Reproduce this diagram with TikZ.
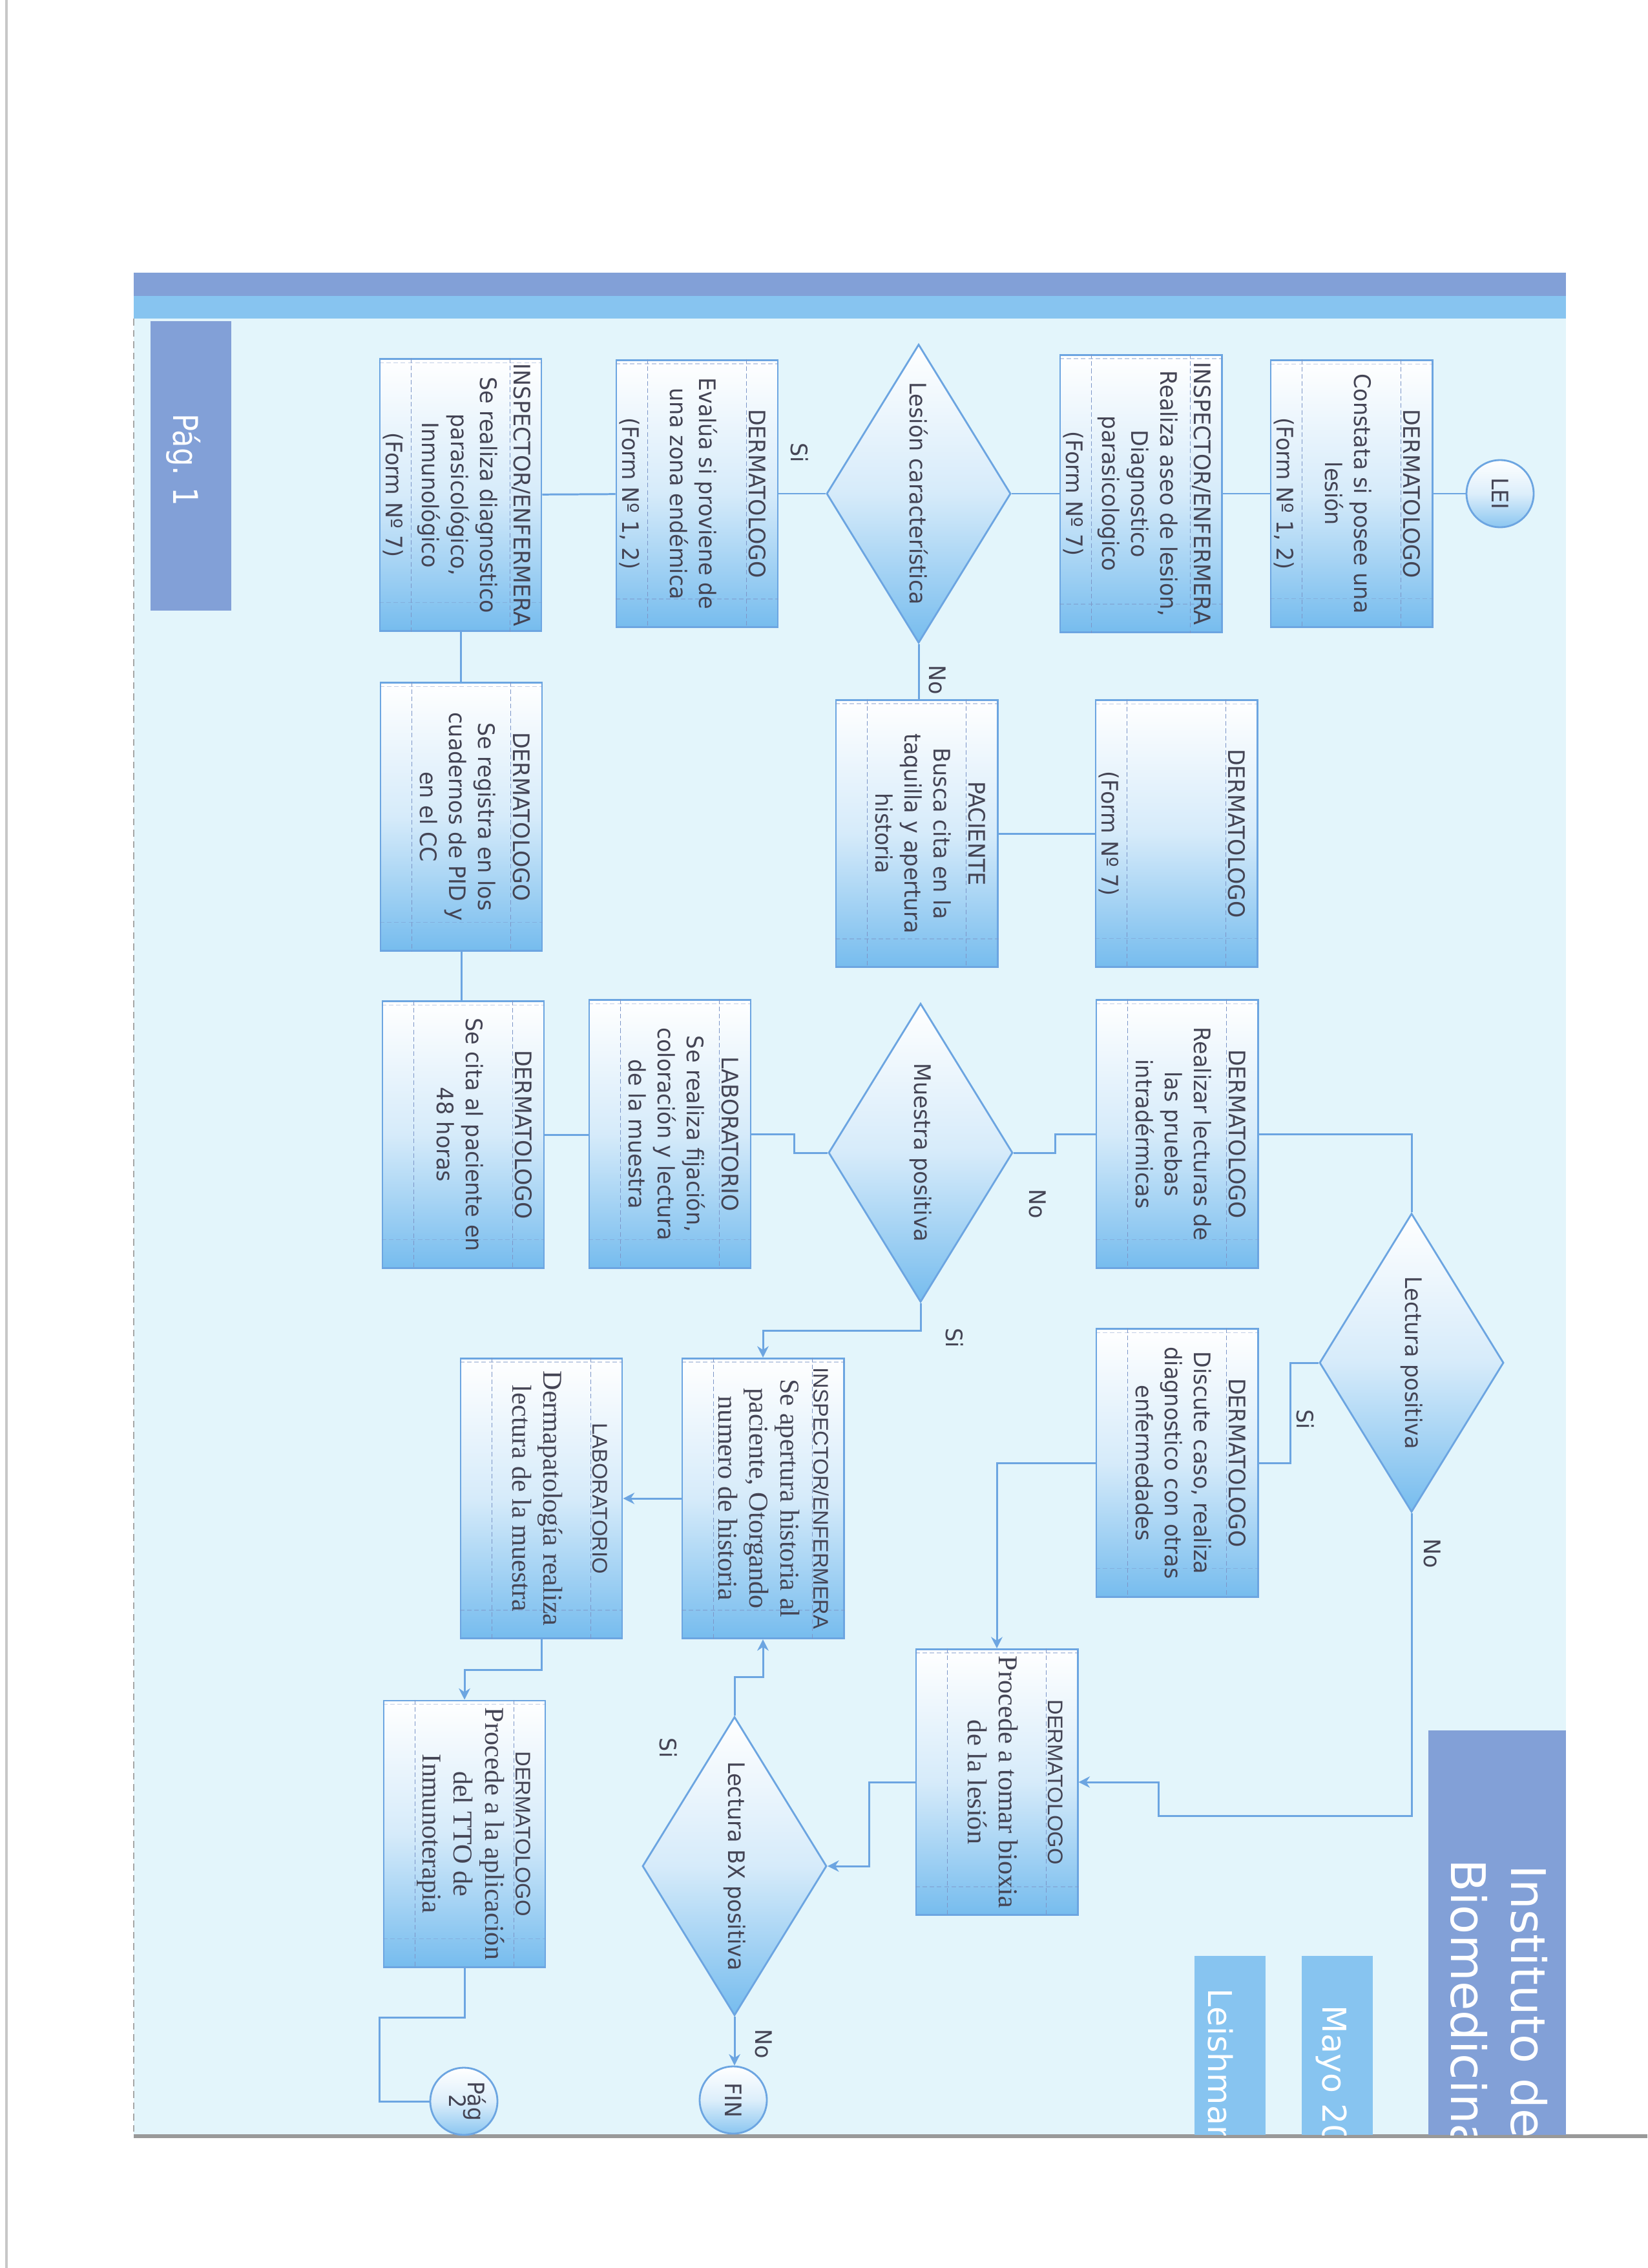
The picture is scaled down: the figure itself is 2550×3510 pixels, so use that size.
\documentclass[tikz,border=0pt]{standalone}
\usepackage{fontspec}
\usepackage{graphicx}
\setmainfont{DejaVu Sans}[FakeStretch=0.95]
\newfontfamily\titlefont{DejaVu Sans}
\newfontfamily\pagfont{DejaVu Sans}[FakeStretch=0.85]
\newfontfamily\hdrfont{Liberation Sans}
\newfontfamily\serfont{Liberation Serif}
\usetikzlibrary{shapes.geometric,calc,arrows.meta}

\definecolor{panel}{RGB}{227,245,251}
\definecolor{lineb}{RGB}{108,165,225}
\definecolor{innerb}{RGB}{125,150,200}
\definecolor{boxb}{RGB}{118,188,238}
\definecolor{txt}{RGB}{68,68,84}
\definecolor{darkb}{RGB}{130,160,215}
\definecolor{lightb}{RGB}{135,196,240}

\tikzset{
  conn/.style={draw=lineb, line width=0.85pt},
  arr/.style={conn, -{Stealth[length=5pt,width=5pt]}},
  pbox/.style={rectangle, draw=lineb, line width=0.8pt, top color=white, bottom color=boxb, middle color=boxb!30!white, minimum width=2.5cm, inner sep=0pt},
  dia/.style={diamond, draw=lineb, line width=0.8pt, top color=white, bottom color=boxb, middle color=boxb!30!white, minimum width=2.85cm, minimum height=4.62cm, inner sep=0pt},
  term/.style={circle, draw=lineb, line width=0.8pt, top color=white, bottom color=boxb!85!white, middle color=boxb!25!white, minimum size=1.04cm, inner sep=0pt, text=txt, font=\fontsize{10pt}{11.4pt}\selectfont},
  innerl/.style={draw=innerb, line width=0.45pt, dash pattern=on 2pt off 1.2pt},
  txtnode/.style={inner sep=0pt, text=txt, font=\fontsize{10pt}{12.8pt}\selectfont},
  hdrnode/.style={inner sep=0pt, text=txt, font=\hdrfont\fontsize{9.3pt}{11pt}\selectfont},
  sernode/.style={inner sep=0pt, text=txt, font=\serfont\fontsize{12pt}{13.7pt}\selectfont},
  lbl/.style={txtnode, rotate=-90},
  darkbox/.style={fill=darkb, inner sep=0pt},
  lightbox/.style={fill=lightb, inner sep=0pt},
  titletxt/.style={rotate=-90, anchor=base west, text=white, inner sep=0pt}
}

\newcommand\mkframe[1]{%
  \draw[innerl] ($(#1.north east)+(-50,0)$) -- ($(#1.south east)+(-50,0)$);
  \draw[innerl] ($(#1.north west)+(50,0)$) -- ($(#1.south west)+(50,0)$);
  \draw[innerl, opacity=0.45] ($(#1.north west)+(0,7)$) -- ($(#1.north east)+(0,7)$);
  \draw[innerl, opacity=0.45] ($(#1.south west)+(0,-45)$) -- ($(#1.south east)+(0,-45)$);
}
\newcommand\mkbox[7]{%
  \node[pbox, minimum height=#4] (#1) at (#2,#3) {};
  \mkframe{#1}
  \node[txtnode, rotate=-90] (#1-h) at ($(#1.east)+(-33,0)$) {#5};
  \node[txtnode, rotate=-90, align=center] (#1-b) at ($(#1.center)+(-5,0)$) {#6};
  \node[txtnode, rotate=-90] (#1-f) at ($(#1.west)+(22,0)$) {#7};
}
\newcommand\mkserbox[6]{%
  \node[pbox, minimum height=#4] (#1) at (#2,#3) {};
  \mkframe{#1}
  \node[hdrnode, rotate=-90] (#1-h) at ($(#1.east)+(-36,0)$) {#5};
  \node[sernode, rotate=-90, align=center] (#1-b) at ($(#1.center)+(-6,0)$) {#6};
}

\begin{document}
\begin{tikzpicture}[x=0.01cm,y=-0.01cm]
\useasboundingbox (0,0) rectangle (2550,3510);
\fill[white] (0,0) rectangle (2550,3510);
\draw[black!22, line width=1.2pt] (10,0) -- (10,3510);
% panel
\fill[panel] (207,422) rectangle (2424,3304);
\fill[darkb] (207,422) rectangle (2424,458);
\fill[lightb] (207,458) rectangle (2424,493);
\draw[black!35, dash pattern=on 3pt off 2pt, line width=0.5pt] (207,493) -- (207,3304);
\draw[black!40, line width=1.5pt] (207,3306) -- (2550,3306);

% page marker
\node[darkbox, minimum width=1.25cm, minimum height=4.48cm] (pag1box) at (295.5,721) {};
\node[rotate=-90, text=white, font=\pagfont\fontsize{15pt}{17pt}\selectfont, inner sep=0pt] (pag1) at (284,712) {Pág. 1};

% title blocks
\node[darkbox, minimum width=2.13cm, minimum height=6.26cm] (titlebox) at (2317.5,2991) {};
\node[lightbox, minimum width=1.10cm, minimum height=2.77cm] (mayobox) at (2070,3165.5) {};
\node[lightbox, minimum width=1.10cm, minimum height=2.77cm] (leishbox) at (1904,3165.5) {};
\begin{scope}
\clip (1800,2600) rectangle (2424,3304);
\node[titletxt, font=\titlefont\fontsize{21pt}{24pt}\selectfont] (inst) at (2339,2886) {Instituto de};
\node[titletxt, font=\titlefont\fontsize{21pt}{24pt}\selectfont] (biom) at (2246,2877) {Biomedicina};
\node[titletxt, font=\titlefont\fontsize{14.4pt}{16pt}\selectfont] (mayo) at (2047,3103) {Mayo 20};
\node[titletxt, font=\titlefont\fontsize{14.4pt}{16pt}\selectfont] (leish) at (1870,3077) {Leishman};
\end{scope}

% terminals
\node[term] (lei) at (2322,764) {\rotatebox{-90}{LEI}};
\node[term] (fin) at (1135,3250) {\rotatebox{-90}{FIN}};
\node[term] (pag2) at (718,3252) {\rotatebox{-90}{\begin{tabular}{@{}c@{}}Pág\\[-3pt]2\end{tabular}}};

% column 1
\mkbox{b1}{2092}{764}{4.12cm}{DERMATOLOGO}{Constata si posee una\\lesión}{(Form Nº 1, 2)}
\mkbox{b2}{1766}{764}{4.29cm}{INSPECTOR/ENFERMERA}{Realiza aseo de lesion,\\Diagnostico\\parasicologico}{(Form Nº 7)}
\node[dia] (d1) at (1422,764) {};
\node[txtnode, rotate=-90] (d1t) at (d1.center) {Lesión característica};
\mkbox{b4}{1079}{764}{4.13cm}{DERMATOLOGO}{Evalúa si proviene de\\una zona endémica}{(Form Nº 1, 2)}
\mkbox{b5}{713}{766}{4.20cm}{INSPECTOR/ENFERMERA}{Se realiza diagnostico\\parasicológico,\\Inmunológico}{(Form Nº 7)}

% column 2
\mkbox{b6}{1821}{1290}{4.12cm}{DERMATOLOGO}{}{(Form Nº 7)}
\mkbox{b7}{1419}{1290}{4.13cm}{PACIENTE}{Busca cita en la\\taquilla y apertura\\historia}{}
\mkbox{b8}{714}{1264}{4.14cm}{DERMATOLOGO}{Se registra en los\\cuadernos de PID y\\en el CC}{}

% column 3
\mkbox{b9}{1822}{1755}{4.14cm}{DERMATOLOGO}{Realizar lecturas de\\las pruebas\\intradérmicas}{}
\node[dia] (d2) at (1425,1784) {};
\node[txtnode, rotate=-90] (d2t) at (d2.center) {Muestra positiva};
\mkbox{b11}{1037}{1755}{4.14cm}{LABORATORIO}{Se realiza fijación,\\coloración y lectura\\de la muestra}{}
\mkbox{b12}{717}{1756}{4.12cm}{DERMATOLOGO}{Se cita al paciente en\\48 horas}{}

% column 4
\node[dia] (d3) at (2185,2109) {};
\node[txtnode, rotate=-90] (d3t) at (d3.center) {Lectura positiva};
\mkbox{b14}{1822}{2264}{4.14cm}{DERMATOLOGO}{Discute caso, realiza\\diagnostico con otras\\enfermedades}{}
\mkserbox{b15}{1181}{2319}{4.33cm}{INSPECTOR/ENFERMERA}{Se apertura historia al\\paciente, Otorgando\\numero de historia}
\mkserbox{b16}{838}{2319}{4.33cm}{LABORATORIO}{Dermapatología realiza\\lectura de la muestra}

% column 5
\mkserbox{b17}{1543}{2758}{4.11cm}{DERMATOLOGO}{Procede a tomar bioxia\\de la lesión}
\node[dia] (d4) at (1137,2888) {};
\node[txtnode, rotate=-90] (d4t) at (d4.center) {Lectura BX positiva};
\mkserbox{b19}{719}{2838}{4.12cm}{DERMATOLOGO}{Procede a la aplicación\\del TTO de\\Inmunoterapia}

% connectors
\draw[conn] (lei) -- (b1);
\draw[conn] (b1) -- (b2);
\draw[conn] (b2) -- (d1);
\draw[conn] (d1) -- (b4);
\draw[conn] (b4) -- (b5);
\draw[conn] (d1.south) -- (d1.south |- b7.north);
\draw[conn] (b7.east) -- (b7.east -| b6.west);
\draw[conn] (b5.south) -- (b5.south |- b8.north);
\draw[conn] (b8.south) -- (b8.south |- b12.north);
\draw[conn] (b12.east) -- (b12.east -| b11.west);
\draw[conn] (b11.east) -- ++(66,0) |- (d2.west);
\draw[conn] (d2.east) -- ++(64,0) |- (b9.west);
\draw[conn] (b9.east) -| (d3.north);
\draw[conn] (d3.west) -- ++(-44,0) |- (b14.east);
\coordinate (k3) at (1793,2810);
\draw[arr] (d3.south) |- (k3) |- (b17.east);
\draw[arr] (b14.west) -| (b17.north);
\draw[arr] (b17.west) -- ++(-71,0) |- (d4.east);
\draw[arr] (d2.south) -- ++(0,43) -| (b15.north);
\draw[arr] (d4.north) -- ++(0,-60) -| (b15.south);
\draw[arr] (b15.west) -- (b16.east);
\draw[arr] (b16.south) -- ++(0,47) -| (b19.north);
\coordinate (k5) at (587,3122);
\draw[conn] (b19.south) |- (k5) |- (pag2.west);
\draw[arr] (d4.south) -- (d4.south |- fin.north);

% labels
\node[lbl] (l1) at (1238,701) {Si};
\node[lbl] (l2) at (1451,1052) {No};
\node[lbl] (l3) at (1606,1863) {No};
\node[lbl] (l4) at (1478,2071) {Si};
\node[lbl] (l5) at (2021,2197) {Si};
\node[lbl] (l6) at (2217,2404) {No};
\node[lbl] (l7) at (1035,2705) {Si};
\node[lbl] (l8) at (1182,3163) {No};
\end{tikzpicture}
\end{document}
